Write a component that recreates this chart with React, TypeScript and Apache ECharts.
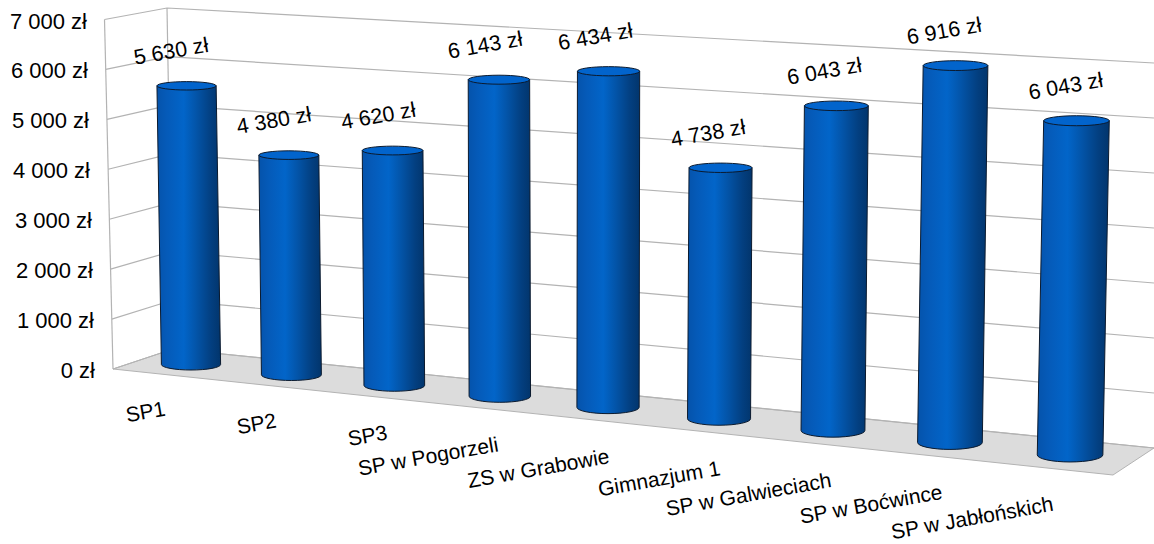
import React, { useEffect, useRef } from "react";
import * as echarts from "echarts";

const categories = ["SP1", "SP2", "SP3", "SP w Pogorzeli", "ZS w Grabowie", "Gimnazjum 1", "SP w Galwieciach", "SP w Boćwince", "SP w Jabłońskich"];
const costs = [5630, 4380, 4620, 6143, 6434, 4738, 6043, 6916, 6043];
const costLabels = ["5 630 zł", "4 380 zł", "4 620 zł", "6 143 zł", "6 434 zł", "4 738 zł", "6 043 zł", "6 916 zł", "6 043 zł"];
const yTicks = [0, 1000, 2000, 3000, 4000, 5000, 6000, 7000];
const yTickLabels = ["0 zł", "1 000 zł", "2 000 zł", "3 000 zł", "4 000 zł", "5 000 zł", "6 000 zł", "7 000 zł"];

const FONT = "Liberation Sans, Arial, sans-serif";
const GRID = { left: 100, top: 21, width: 900, height: 349 };
const BAND = GRID.width / categories.length;
const C_X = -0.01218, C_H = -0.0131;
const PX_PER_VALUE = 0.0495 / (GRID.height / 7000);

const wall = {
  frontBottom: [113, 369], frontTop: [104.5, 19.5],
  backBottom: [173, 349], backTop: [167, 8],
  rightBottom: [1154, 448], rightTop: [1154, 63],
  floorFront: [1113, 475],
};
const lerp = (a: number[], b: number[], t: number) => [a[0] + (b[0] - a[0]) * t, a[1] + (b[1] - a[1]) * t];

// Project a category slot + a plotted height on to the tilted bar plane.
function project(slotX: number, axisHeight: number) {
  const i = (slotX - GRID.left) / BAND - 0.5;
  const w = 1 + C_X * i;
  const baseX = (191 + 96.85 * i) / w;
  const baseBottom = (370 + 5.87 * i) / w;
  const ryB = 5.5 + 0.2 * i;
  const h = (axisHeight * PX_PER_VALUE) / (1 + C_H * i);
  const topX = baseX + h * (-0.016 + 0.0044 * i);
  return {
    i, baseX, topX, baseBottom, ryB,
    baseY: baseBottom - ryB,
    topY: baseBottom - ryB - h,
    rx: 29.6 / w,
    ryT: 4.2 + 0.1 * i,
  };
}

const GRIDLINE = "#b3b3b3";

function renderWalls(_: any, api: any) {
  const v = api.value(1);
  const py = api.coord([0, v])[1];
  const t = (GRID.top + GRID.height - py) / GRID.height;
  const a = lerp(wall.frontBottom, wall.frontTop, t);
  const b = lerp(wall.backBottom, wall.backTop, t);
  const c = lerp(wall.rightBottom, wall.rightTop, t);
  const lineStyle = { stroke: GRIDLINE, lineWidth: 1.2, fill: "none" };
  const children: any[] = [];
  if (v === 0) {
    children.push({
      type: "polygon",
      shape: { points: [wall.frontBottom, wall.backBottom, wall.rightBottom, wall.floorFront] },
      style: { fill: "#dcdcdc", stroke: GRIDLINE, lineWidth: 1 },
    });
    children.push({ type: "line", shape: { x1: wall.frontBottom[0], y1: wall.frontBottom[1], x2: wall.frontTop[0], y2: wall.frontTop[1] }, style: lineStyle });
    children.push({ type: "line", shape: { x1: wall.backBottom[0], y1: wall.backBottom[1], x2: wall.backTop[0], y2: wall.backTop[1] }, style: lineStyle });
  }
  children.push({ type: "polyline", shape: { points: [a, b, c] }, style: lineStyle });
  return { type: "group", children };
}

function renderBar(_: any, api: any) {
  const idx = api.value(0);
  const [sx, sy] = api.coord([idx, api.value(1)]);
  const [, y0] = api.coord([idx, 0]);
  const p = project(sx, y0 - sy);
  const botL = p.baseX - p.rx, botR = p.baseX + p.rx;
  const topL = p.topX - p.rx, topR = p.topX + p.rx;
  const body = `M${topL} ${p.topY}L${botL} ${p.baseY}A${p.rx} ${p.ryB} 0 0 0 ${botR} ${p.baseY}L${topR} ${p.topY}Z`;
  const cap = `M${topL} ${p.topY}A${p.rx} ${p.ryT} 0 0 1 ${topR} ${p.topY}A${p.rx} ${p.ryT} 0 0 1 ${topL} ${p.topY}Z`;
  const fill = new echarts.graphic.LinearGradient(0, 0, 1, 0, [
    { offset: 0, color: "#0553ab" },
    { offset: 0.15, color: "#055ab8" },
    { offset: 0.42, color: "#0265c9" },
    { offset: 0.62, color: "#0354a8" },
    { offset: 0.85, color: "#033f80" },
    { offset: 1, color: "#02356c" },
  ]);
  return {
    type: "group",
    children: [
      { type: "path", shape: { pathData: body }, style: { fill, stroke: "#0b1a2e", lineWidth: 1 } },
      { type: "path", shape: { pathData: cap }, style: { fill: "#0264cc", stroke: "#0b1a2e", lineWidth: 1 } },
    ],
  };
}

function renderValueLabel(_: any, api: any) {
  const idx = api.value(0);
  const [sx, sy] = api.coord([idx, api.value(1)]);
  const [, y0] = api.coord([idx, 0]);
  const p = project(sx, y0 - sy);
  return {
    type: "text",
    x: p.topX - 15.5 + 0.6 * p.i,
    y: p.topY - 34.5,
    rotation: (10 * Math.PI) / 180,
    style: { text: costLabels[idx], font: `21.5px ${FONT}`, fill: "#000", align: "center", verticalAlign: "middle" },
  };
}

function renderCategoryLabel(_: any, api: any) {
  const idx = api.value(0);
  const sx = api.coord([idx, 0])[0];
  const i = (sx - GRID.left) / BAND - 0.5;
  return {
    type: "text",
    x: 165 + 111 * i,
    y: 408 + 11.9 * i,
    rotation: (10 * Math.PI) / 180,
    style: { text: categories[idx], font: `21px ${FONT}`, fill: "#000", align: "right", verticalAlign: "middle" },
  };
}

const rich: Record<string, any> = {};
yTicks.forEach((v, k) => {
  rich["t" + k] = { fontFamily: FONT, fontSize: 22, color: "#000", padding: [0, Math.round((v / 7000) * 8), 0, 0] };
});

export default function App() {
  const ref = useRef<HTMLDivElement>(null);
  useEffect(() => {
    if (!ref.current) return;
    const chart = echarts.init(ref.current, undefined, { renderer: "svg" });
    const barData = costs.map((v, i) => [i, v]);
    chart.setOption({
      animation: false,
      backgroundColor: "#fff",
      grid: { ...GRID },
      xAxis: { type: "category", data: categories, show: false },
      yAxis: {
        type: "value", min: 0, max: 7000, interval: 1000,
        axisLine: { show: false }, axisTick: { show: false }, splitLine: { show: false },
        axisLabel: {
          margin: 5,
          formatter: (v: number) => {
            const k = yTicks.indexOf(v);
            return `{t${k}|${yTickLabels[k]}}`;
          },
          rich,
        },
      },
      series: [
        { type: "custom", z: 1, silent: true, data: yTicks.map((v) => [0, v]), renderItem: renderWalls },
        { type: "custom", z: 2, silent: true, data: barData, renderItem: renderBar },
        { type: "custom", z: 3, silent: true, data: barData, renderItem: renderValueLabel },
        { type: "custom", z: 3, silent: true, data: barData, renderItem: renderCategoryLabel },
      ],
    });
    return () => chart.dispose();
  }, []);
  return <div ref={ref} style={{ position: "absolute", left: 0, top: 0, width: 1154, height: 544 }} />;
}
